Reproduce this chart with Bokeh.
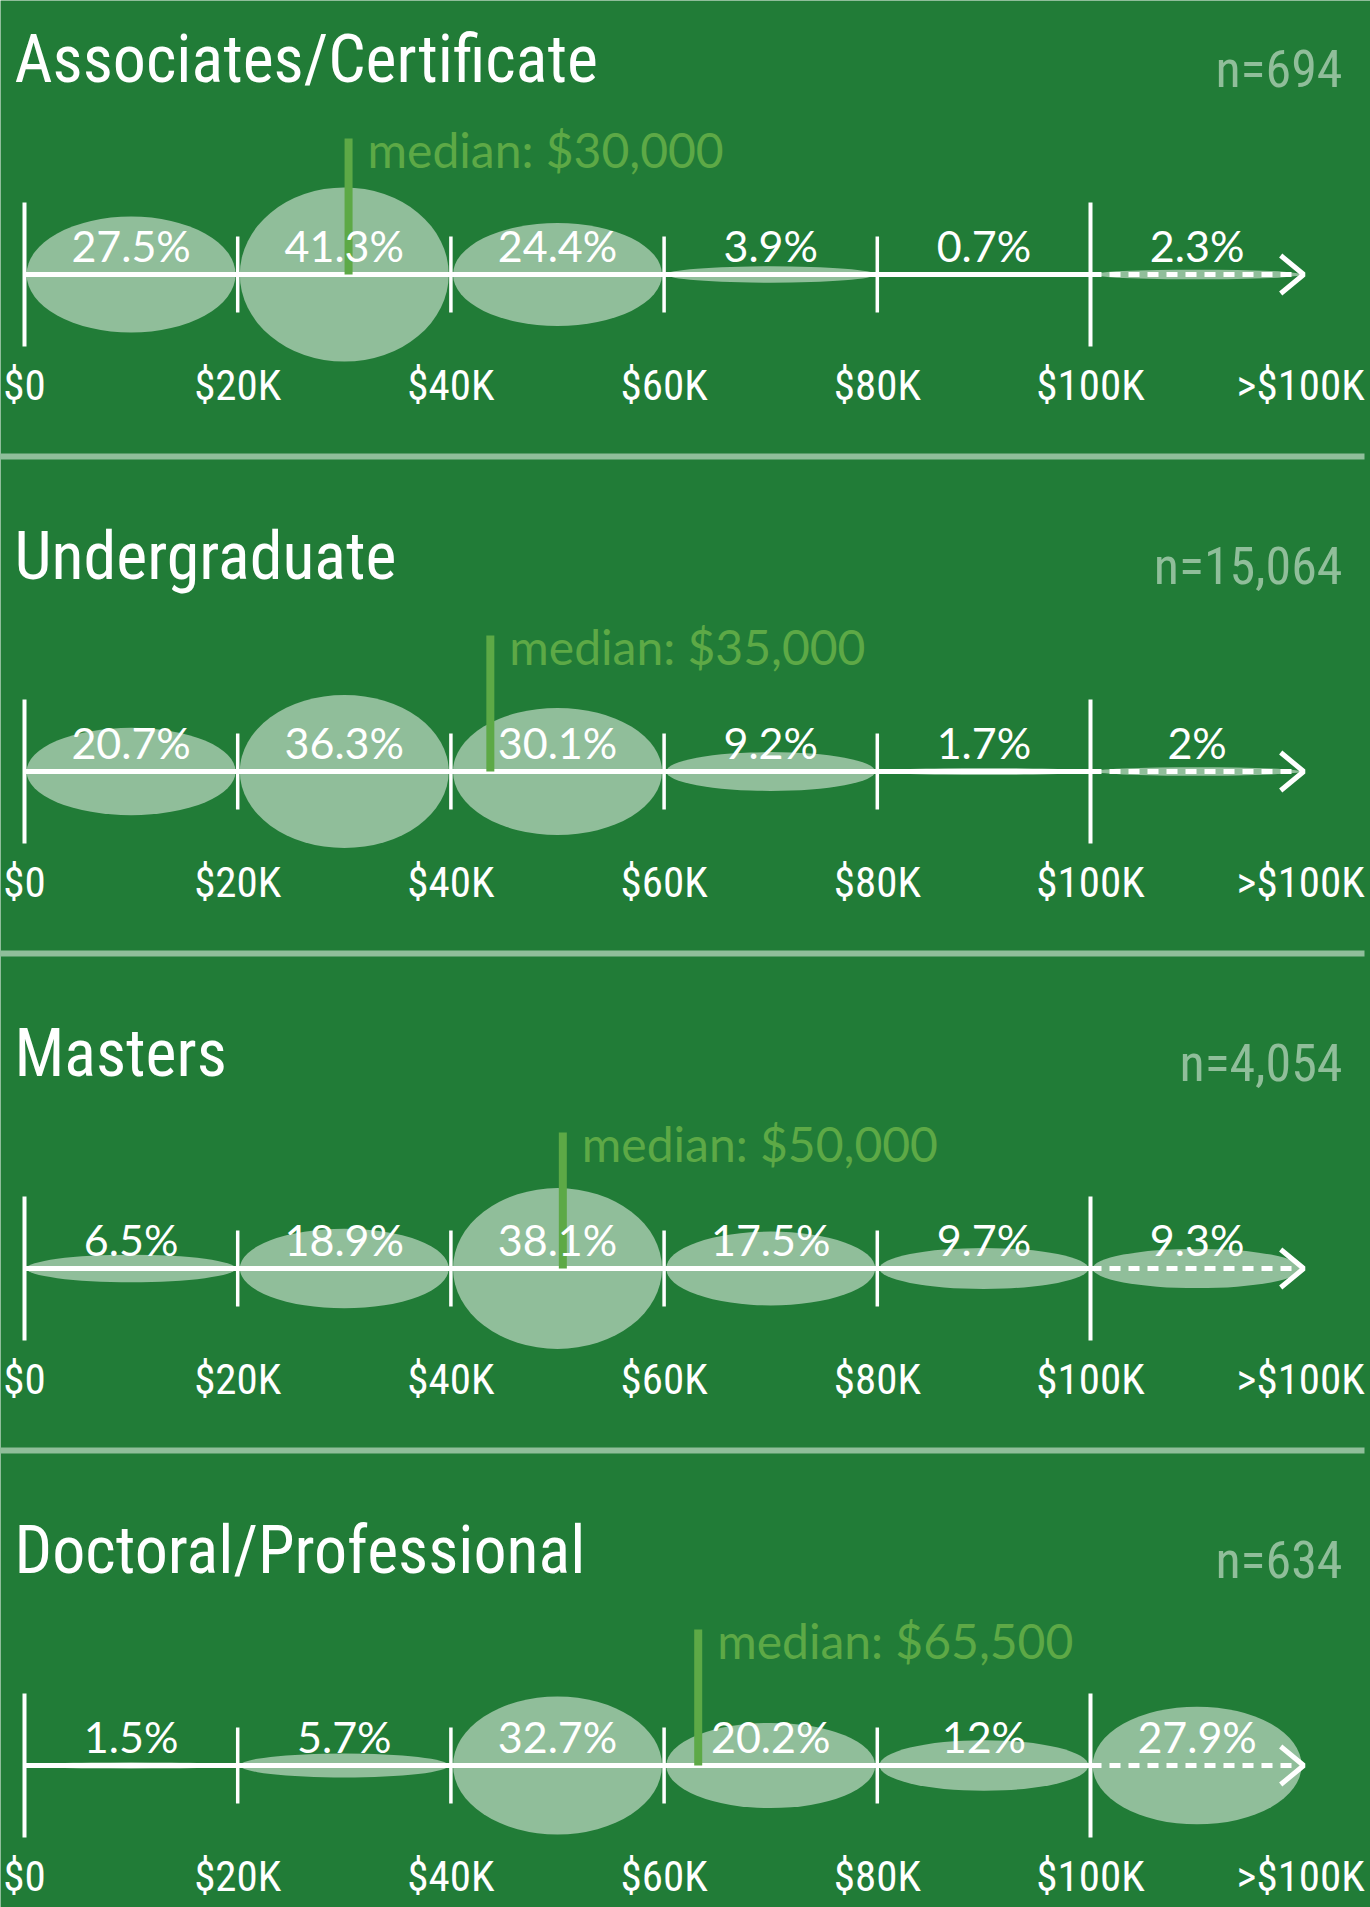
from bokeh.plotting import figure
from bokeh.models import Range1d, ColumnDataSource
from bokeh.core.properties import value
from bokeh.embed import file_html
from bokeh.resources import INLINE

# ---------------- data ----------------
categories = ["Associates/Certificate", "Undergraduate", "Masters", "Doctoral/Professional"]
n_labels = ["n=694", "n=15,064", "n=4,054", "n=634"]
median_labels = ["median: $30,000", "median: $35,000", "median: $50,000", "median: $65,500"]
median_marker = [30400, 43700, 50500, 63200]  # where the median bar is drawn in the picture
bin_centers = [10000, 30000, 50000, 70000, 90000, 110000]
tick_values = [0, 20000, 40000, 60000, 80000, 100000, 120000]
tick_labels = ["$0", "$20K", "$40K", "$60K", "$80K", "$100K", ">$100K"]
pct_associates = [27.5, 41.3, 24.4, 3.9, 0.7, 2.3]
pct_undergraduate = [20.7, 36.3, 30.1, 9.2, 1.7, 2.0]
pct_masters = [6.5, 18.9, 38.1, 17.5, 9.7, 9.3]
pct_doctoral = [1.5, 5.7, 32.7, 20.2, 12.0, 27.9]
series = [pct_associates, pct_undergraduate, pct_masters, pct_doctoral]

# ---------------- style ----------------
BG = "#217c37"
LIGHT = "#90be9a"
MEDIAN = "#5da946"
WHITE = "#ffffff"
COND = "'Roboto Condensed', 'Noto Sans Condensed', 'DejaVu Sans Condensed', 'Liberation Sans Narrow', Roboto"
HUM = "Lato"
BL = 0.385   # baseline compensation (em)

W, H = 1370, 1907
X0PX, SCALE = 24, 1066 / 100000.0   # px of $0, px per dollar
px = 1 / SCALE                      # dollars per px

p = figure(width=W, height=H, output_backend="svg", toolbar_location=None,
           x_range=Range1d(-X0PX * px, (W - X0PX) * px), y_range=Range1d(H, 0),
           min_border=0, background_fill_color=BG, border_fill_color=BG,
           outline_line_color=None)
p.axis.visible = False
p.grid.visible = False

AX0, STEP = 274, 497
PX_PER_PCT = 4.22

FS_TITLE, FS_N, FS_TICK, FS_MED, FS_PCT = 66, 52, 43, 48, 43

for i, (cat, vals) in enumerate(zip(categories, series)):
    ay = AX0 + STEP * i
    # ellipses
    src = ColumnDataSource(dict(x=bin_centers, y=[ay] * len(vals),
                                ly=[ay - 12 - BL * FS_PCT] * len(vals),
                                h=[v * PX_PER_PCT for v in vals],
                                lab=[f"{v:g}%" for v in vals]))
    p.ellipse(x="x", y="y", width=19600, height="h", source=src,
              fill_color=LIGHT, line_color=None)
    # axis line
    p.line([tick_values[0], tick_values[5]], [ay, ay], line_color=WHITE, line_width=5)
    p.line([tick_values[5], tick_values[6] - 4 * px], [ay, ay], line_color=WHITE,
           line_width=5, line_dash="11 8")
    # arrow head
    tip = tick_values[6]
    p.line([tip - 23 * px, tip, tip - 23 * px], [ay - 19, ay, ay + 19],
           line_color=WHITE, line_width=5)
    # ticks
    for j, tv in enumerate(tick_values[:6]):
        long = j in (0, 5)
        d = 72 if long else 38
        p.segment(x0=[tv], y0=[ay - d], x1=[tv], y1=[ay + d], line_color=WHITE,
                  line_width=4 if long else 3.5)
    # tick labels
    p.text(x=tick_values[:6], y=[ay + 127 - BL * FS_TICK] * 6, text=tick_labels[:6],
           text_font=value(COND), text_font_size=f"{FS_TICK}px", text_color=WHITE,
           text_align="center", text_baseline="alphabetic")
    p.text(x=[tick_values[6]], y=[ay + 127 - BL * FS_TICK], text=[tick_labels[6]],
           x_offset=-3,
           text_font=value(COND), text_font_size=f"{FS_TICK}px", text_color=WHITE,
           text_align="center", text_baseline="alphabetic")
    # median bar + label
    m = median_marker[i]
    p.segment(x0=[m], y0=[ay - 136], x1=[m], y1=[ay], line_color=MEDIAN, line_width=8)
    p.text(x=[m], y=[ay - 107 - BL * FS_MED], text=[median_labels[i]], x_offset=19,
           text_font=value(HUM), text_font_size=f"{FS_MED}px", text_color=MEDIAN,
           text_align="left", text_baseline="alphabetic")
    # percent labels
    p.text(x="x", y="ly", text="lab", source=src,
           text_font=value(HUM), text_font_size=f"{FS_PCT}px", text_color=WHITE,
           text_align="center", text_baseline="alphabetic")
    # title and n
    p.text(x=[-X0PX * px + 14 * px], y=[ay - 190 - BL * FS_TITLE], text=[cat],
           text_font=value(COND), text_font_size=f"{FS_TITLE}px", text_color=WHITE,
           text_align="left", text_baseline="alphabetic")
    p.text(x=[(1342 - X0PX) * px], y=[ay - 185 - BL * FS_N], text=[n_labels[i]],
           text_font=value(COND), text_font_size=f"{FS_N}px", text_color=LIGHT,
           text_align="right", text_baseline="alphabetic")
    # separator
    if i < len(categories) - 1:
        p.line([-X0PX * px, (1364 - X0PX) * px], [ay + 182, ay + 182],
               line_color=LIGHT, line_width=6)

open("out.html", "w").write(file_html(p, INLINE))
